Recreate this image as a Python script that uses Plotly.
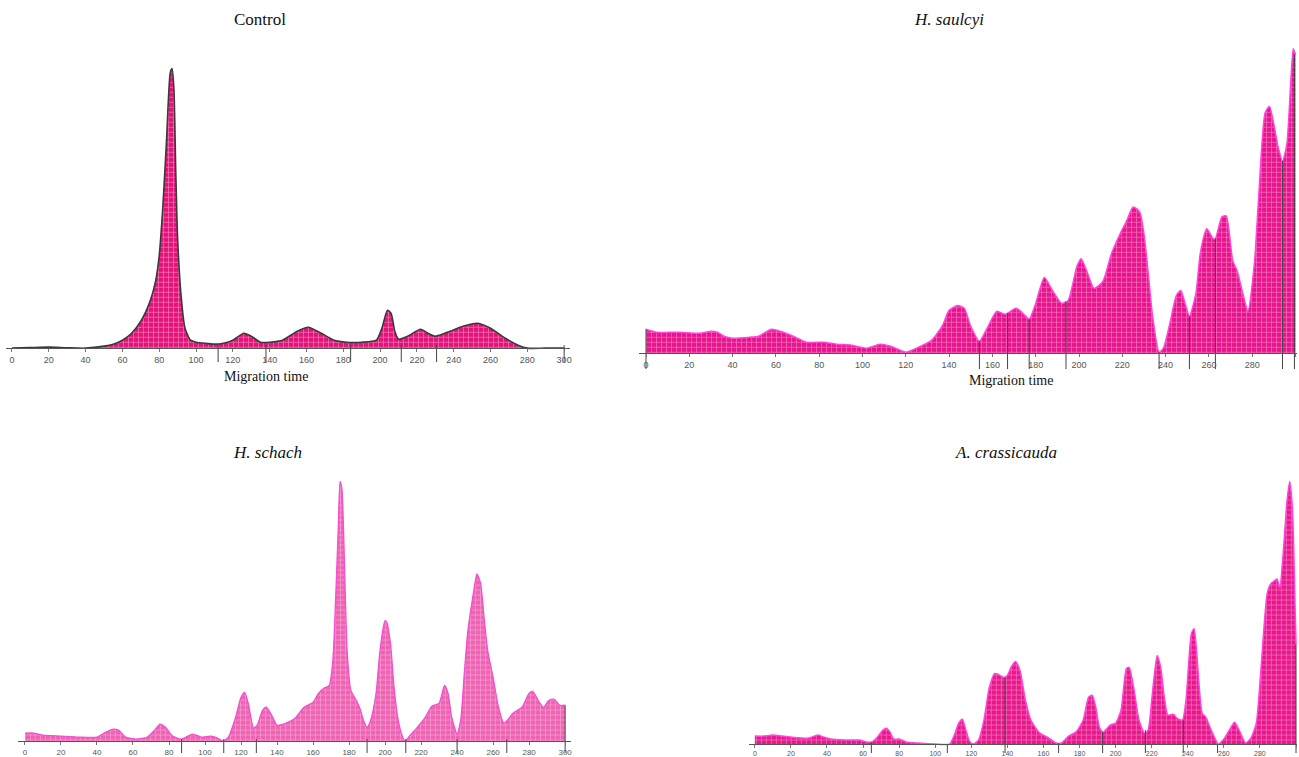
import plotly.graph_objects as go

W, H = 1299, 757

# ---------------- data (heights in arbitrary detector units) ----------------
ctrl_t = [0, 10, 20, 30, 40, 50, 55, 60, 65, 70, 75, 78, 80, 82, 84, 86, 87, 88, 89, 90, 92, 94, 97, 100,
          110, 115, 120, 126, 130, 135, 140, 147, 155, 161, 168, 175, 182, 190, 198, 201, 204, 206, 208, 210,
          215, 222, 226, 230, 238, 245, 253, 260, 268, 275, 280, 290, 300]
ctrl_h = [0, 0.5, 1, 0.3, 0, 2, 4, 8, 15, 27, 47, 67, 93, 143, 210, 277, 281, 260, 177, 110, 50, 20, 8, 6,
          4, 5, 8, 15, 12, 6, 6, 8, 17, 21, 15, 8, 6, 6, 8, 20, 38, 35, 17, 9,
          12, 19, 15, 12, 17, 22, 25, 20, 10, 3, 0, 0, 0]
ctrl_bounds = [112, 138, 184, 211.5, 230.7, 300]
ctrl_bound_tops = [3, 3, 3, 3, 3, 3]

sau_t = [0, 5, 15, 25, 30, 33, 36, 40, 48, 52, 58, 62, 68, 74, 82, 88, 95, 102, 108, 113, 120, 125, 132,
         137, 140, 144, 147, 150, 154, 158, 162, 166, 171, 175, 177, 180, 184, 188, 192, 195, 199, 201, 204,
         207, 211, 215, 219, 222, 225, 228, 230, 232, 234, 237, 239, 242, 245, 247, 249, 251, 254, 256, 259,
         262, 263, 266, 268, 271, 273, 276, 278, 281, 283, 286, 288, 290, 292, 294, 296, 298, 299, 300]
sau_h = [24, 21, 21, 20, 22, 21, 17, 15, 16, 17, 24, 22, 17, 11, 11, 9, 8, 5, 9, 7, 1, 5, 13,
         28, 43, 48, 45, 27, 12, 27, 42, 39, 45, 38, 34, 50, 76, 62, 50, 53, 87, 95, 80,
         65, 72, 100, 120, 133, 147, 142, 120, 80, 37, 1, 5, 30, 58, 63, 50, 37, 60, 100, 125,
         115, 115, 137, 138, 93, 83, 57, 42, 90, 157, 242, 248, 230, 207, 193, 210, 280, 306, 300]
sau_bounds = [0, 154, 167, 177, 194, 237, 251, 263, 294, 299.5]
sau_bound_tops = [24, 12, 40, 34, 52, 1, 37, 115, 193, 300]

sch_t = [0, 5, 10, 20, 30, 40, 45, 49, 52, 56, 62, 68, 72, 75, 78, 82, 87, 93, 98, 103, 107, 110, 113,
         117, 120, 122, 124, 127, 129, 132, 134, 137, 140, 145, 150, 155, 160, 163, 166, 169, 171, 172.5,
         174, 175, 176, 177, 178, 179, 181, 184, 186, 188, 190, 192, 195, 197, 199, 200, 201, 203, 205,
         207, 209, 211, 214, 218, 222, 226, 230, 233, 235, 237, 240, 242, 244, 246, 249, 251, 253, 255,
         257, 260, 263, 266, 268, 271, 276, 280, 282, 285, 288, 291, 294, 297, 300]
sch_h = [8, 8, 6, 5, 4, 4, 9, 12, 11, 4, 2, 4, 11, 17, 14, 5, 2, 7, 4, 5, 3, 0, 4,
         24, 44, 49, 38, 13, 16, 31, 34, 26, 16, 18, 23, 34, 39, 48, 53, 56, 81, 141,
         214, 261, 254, 208, 141, 88, 51, 41, 33, 21, 14, 21, 48, 88, 114, 121, 119, 98, 54,
         24, 8, 0, 6, 14, 23, 35, 38, 56, 48, 24, 7, 21, 68, 111, 148, 168, 159, 124,
         91, 64, 34, 18, 21, 28, 34, 48, 50, 41, 34, 41, 42, 36, 36]
sch_bounds = [87, 110.4, 128.5, 190, 211.5, 240, 267.6, 300]
sch_bound_tops = [2, 2, 2, 2, 2, 2, 2, 36]

cra_t = [0, 5, 10, 15, 20, 30, 35, 38, 42, 50, 58, 62, 65, 68, 71, 73, 75, 77, 80, 84, 90, 100, 108,
         111, 113, 115, 117, 119, 121, 124, 127, 130, 133, 135, 138, 140, 142, 144.5, 147, 150, 153, 158,
         163, 167, 170, 174, 178, 182, 185, 187, 189, 191, 193, 197, 200, 203, 206, 207.5, 210, 213, 216,
         218, 220, 223, 225, 227, 229, 232, 234, 237, 239, 242, 243.5, 245, 248, 250, 253, 257, 260, 264,
         266, 269, 272, 275, 278, 280, 282, 284, 286, 288, 289.5, 291, 293, 295, 296.5, 298, 299.5, 300]
cra_h = [8, 8, 9, 8, 7, 6, 9, 7, 5, 4, 4, 2, 2, 7, 14, 16, 12, 5, 5, 2, 1, 0, 0,
         11, 21, 25, 14, 3, 0, 4, 24, 57, 71, 70, 67, 69, 77, 83, 74, 44, 24, 11,
         6, 1, 1, 8, 12, 24, 47, 49, 37, 17, 12, 19, 21, 34, 76, 77, 57, 24, 11,
         14, 44, 89, 77, 47, 29, 30, 26, 24, 44, 111, 116, 91, 31, 27, 14, 0, 5, 17,
         22, 12, 1, 6, 21, 61, 111, 151, 161, 164, 166, 157, 194, 244, 264, 237, 137, 100]
cra_bounds = [64.6, 106.7, 138.7, 168.4, 192.8, 216.5, 237.5, 256.5, 300]
cra_bound_tops = [2, 0, 67, 1, 12, 14, 24, 0, 100]

x_ticks = list(range(0, 301, 20))

# ---------------- layout geometry (pixels) ----------------
panels = [
    dict(t=ctrl_t, h=ctrl_h, b=ctrl_bounds, bt=ctrl_bound_tops, dx=(6, 571), p0=12, p300=565,
         base=350, top=40, bot=372, fill="#e4137a", grid="rgba(255,255,255,0.9)", line="#3a3a3a", lw=1.6,
         below=14, fs=9),
    dict(t=sau_t, h=sau_h, b=sau_bounds, bt=sau_bound_tops, dx=(640, 1299), p0=647, p300=1297.5,
         base=355, top=40, bot=377, fill="#e8148c", grid="rgba(255,255,255,0.85)", line="#ff45e0", lw=1.5,
         below=16, fs=9),
    dict(t=sch_t, h=sch_h, b=sch_bounds, bt=sch_bound_tops, dx=(18, 572), p0=25, p300=566,
         base=745, top=470, bot=757, fill="#ee63b2", grid="rgba(255,255,255,0.8)", line="#f24fd2", lw=1.3,
         below=12, fs=8),
    dict(t=cra_t, h=cra_h, b=cra_bounds, bt=cra_bound_tops, dx=(750, 1299), p0=756, p300=1298,
         base=748, top=470, bot=757, fill="#e8178b", grid="rgba(255,255,255,0.85)", line="#ff45e0", lw=1.5,
         below=9, fs=7),
]

fig = go.Figure()
layout = dict(width=W, height=H, margin=dict(l=0, r=0, t=0, b=0), showlegend=False,
              plot_bgcolor="white", paper_bgcolor="white")

for i, p in enumerate(panels, start=1):
    xa = "x" if i == 1 else f"x{i}"
    ya = "y" if i == 1 else f"y{i}"
    ppu = (p["p300"] - p["p0"]) / 300.0
    xr = [(p["dx"][0] - p["p0"]) / ppu, (p["dx"][1] - p["p0"]) / ppu]
    yr = [-(p["bot"] - p["base"]), p["base"] - p["top"]]
    layout["xaxis" if i == 1 else f"xaxis{i}"] = dict(
        domain=[p["dx"][0] / W, p["dx"][1] / W], range=xr, anchor="free",
        position=1 - p["base"] / H, tickvals=x_ticks, ticks="outside", ticklen=3, tickwidth=1,
        tickcolor="#777", showline=True, linecolor="#555", linewidth=1, showgrid=False, zeroline=False,
        tickfont=dict(family="Liberation Sans", size=p["fs"], color="#555"), fixedrange=True)
    layout["yaxis" if i == 1 else f"yaxis{i}"] = dict(
        domain=[1 - p["bot"] / H, 1 - p["top"] / H], range=yr, anchor=xa,
        visible=False, showgrid=False, zeroline=False, fixedrange=True)

    fig.add_trace(go.Scatter(
        x=p["t"], y=p["h"], xaxis=xa, yaxis=ya, mode="lines",
        line=dict(color=p["line"], width=p["lw"], shape="spline", smoothing=0.6),
        fill="tozeroy", fillcolor=p["fill"],
        fillpattern=dict(shape="+", bgcolor=p["fill"], fgcolor=p["grid"], size=5, solidity=0.25),
        hoverinfo="skip"))

    bx, by = [], []
    for xv, tv in zip(p["b"], p["bt"]):
        bx += [xv, xv, None]
        by += [tv, -p["below"], None]
    fig.add_trace(go.Scatter(x=bx, y=by, xaxis=xa, yaxis=ya, mode="lines",
                             line=dict(color="#444", width=1), hoverinfo="skip"))

titles = [("Control", 260, 20, False), ("H. saulcyi", 950, 20, True),
          ("H. schach", 268, 455, True), ("A. crassicauda", 1008, 455, True)]
ann = []
for txt, px, py, it in titles:
    ann.append(dict(text=f"<i>{txt}</i>" if it else txt, x=px / W, y=1 - py / H, xref="paper", yref="paper",
                    showarrow=False, xanchor="center", yanchor="middle",
                    font=dict(family="Liberation Serif", size=17, color="#111")))
for px, py in [(266, 378), (1013, 383)]:
    ann.append(dict(text="Migration time", x=px / W, y=1 - py / H, xref="paper", yref="paper",
                    showarrow=False, xanchor="center", yanchor="middle",
                    font=dict(family="Liberation Serif", size=14, color="#111")))
layout["annotations"] = ann
fig.update_layout(**layout)
fig.write_html("out.html", config={"displayModeBar": False},
               post_script="document.documentElement.style.overflow='hidden';"
                           "document.body.style.margin='0px';document.body.style.overflow='hidden';")
